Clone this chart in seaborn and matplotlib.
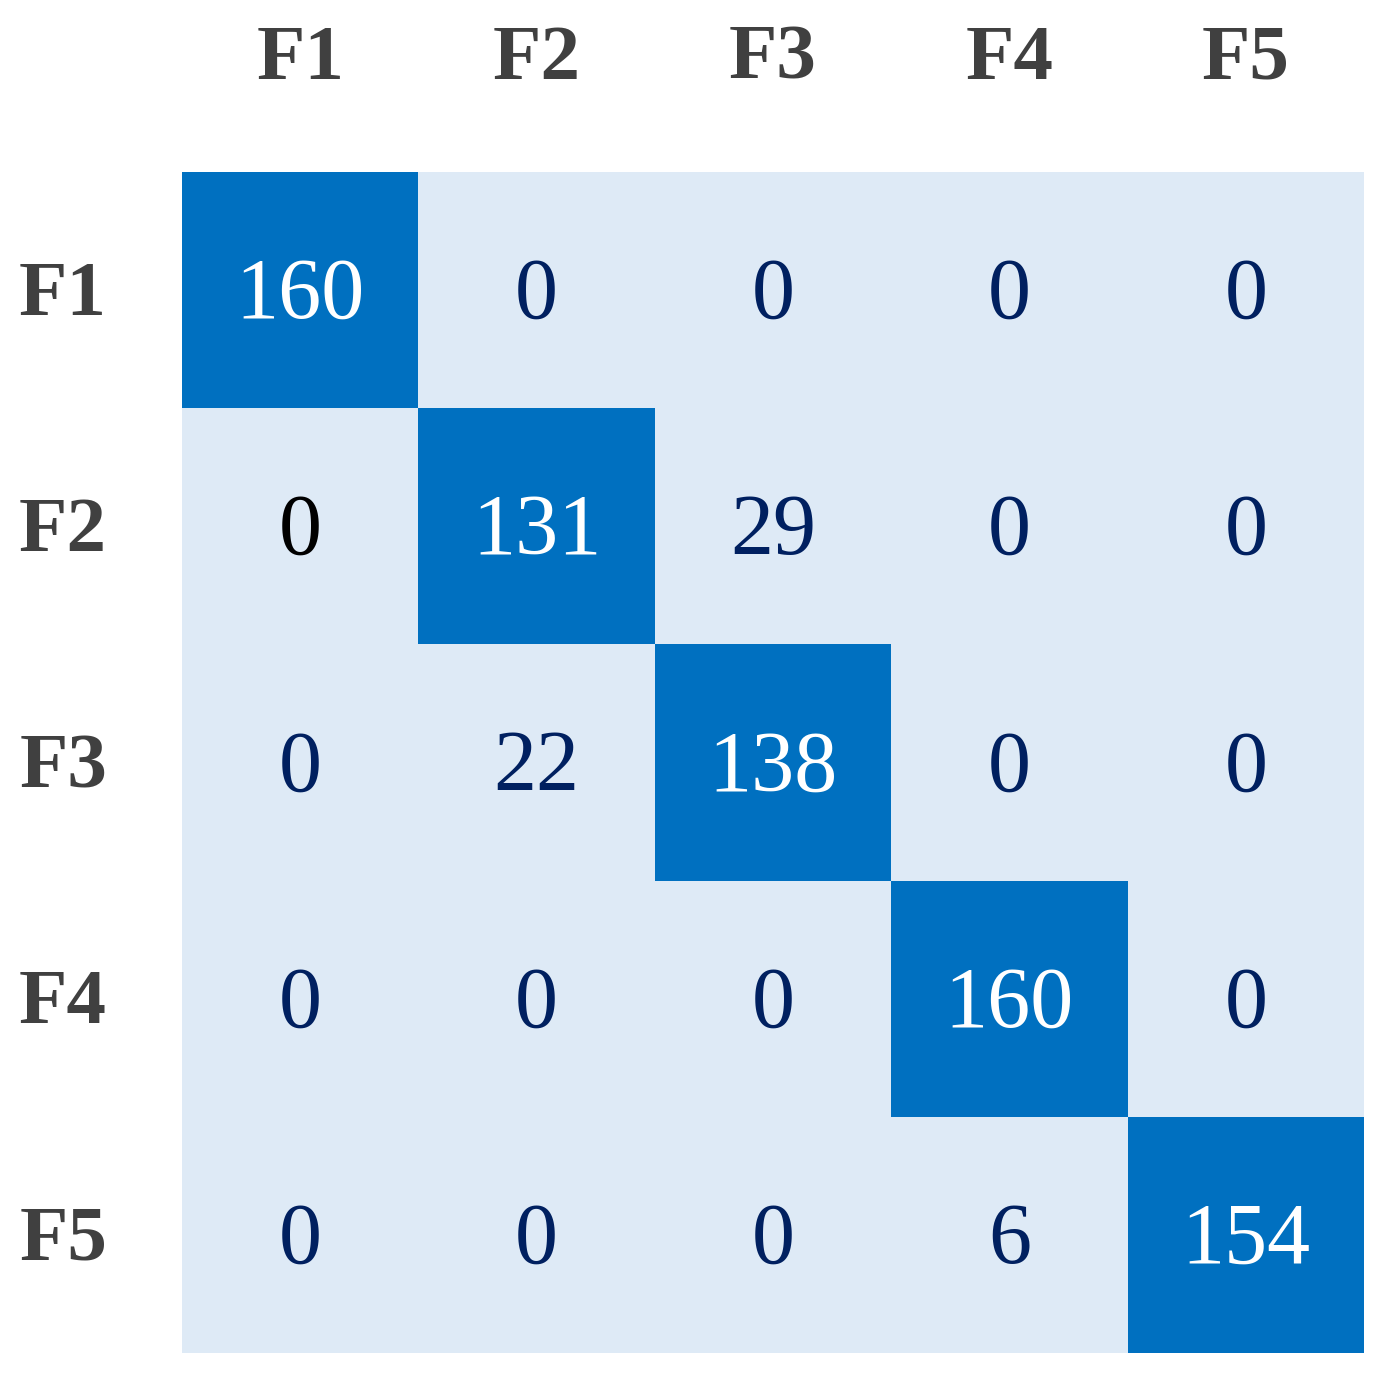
import numpy as np
import pandas as pd
import matplotlib
matplotlib.use("Agg")
import matplotlib.pyplot as plt
import matplotlib.transforms as mtransforms
from matplotlib.colors import ListedColormap, BoundaryNorm
import seaborn as sns

# confusion matrix values
labels = ['F1', 'F2', 'F3', 'F4', 'F5']
row_f1 = [160, 0, 0, 0, 0]
row_f2 = [0, 131, 29, 0, 0]
row_f3 = [0, 22, 138, 0, 0]
row_f4 = [0, 0, 0, 160, 0]
row_f5 = [0, 0, 0, 6, 154]

df = pd.DataFrame([row_f1, row_f2, row_f3, row_f4, row_f5], index=labels, columns=labels)

sns.set_style("white")
plt.rcParams['font.family'] = ['Liberation Serif', 'DejaVu Serif']

fig = plt.figure(figsize=(13.86, 13.75), dpi=100)
ax = fig.add_axes([182/1386, 22/1375, 1182/1386, 1181/1375])

cmap = ListedColormap(['#DEEAF6', '#0070C0'])
norm = BoundaryNorm([-1, 80, 1000], 2)
sns.heatmap(df, ax=ax, cmap=cmap, norm=norm, cbar=False, annot=True, fmt='d',
            annot_kws={'fontsize': 62}, square=False)

for t in ax.texts:
    v = int(t.get_text())
    if v >= 80:
        t.set_color('white')
    else:
        t.set_color('#002060')
    x, y = t.get_position()
    t.set_position((x, y + 0.03))
# this one zero is drawn in black in the original
ax.texts[5].set_color('black')

ax.xaxis.tick_top()
ax.tick_params(axis='both', length=0)
ax.tick_params(axis='x', pad=55)
ax.tick_params(axis='y', pad=54)
for lab in ax.get_xticklabels() + ax.get_yticklabels():
    lab.set_fontsize(57)
    lab.set_fontweight('bold')
    lab.set_color('#404040')
    lab.set_rotation(0)

# nudge row labels down a little
shift = mtransforms.ScaledTranslation(0, -6/100, fig.dpi_scale_trans)
for lab in ax.get_yticklabels():
    lab.set_transform(lab.get_transform() + shift)

fig.savefig('out.png', dpi=100)
